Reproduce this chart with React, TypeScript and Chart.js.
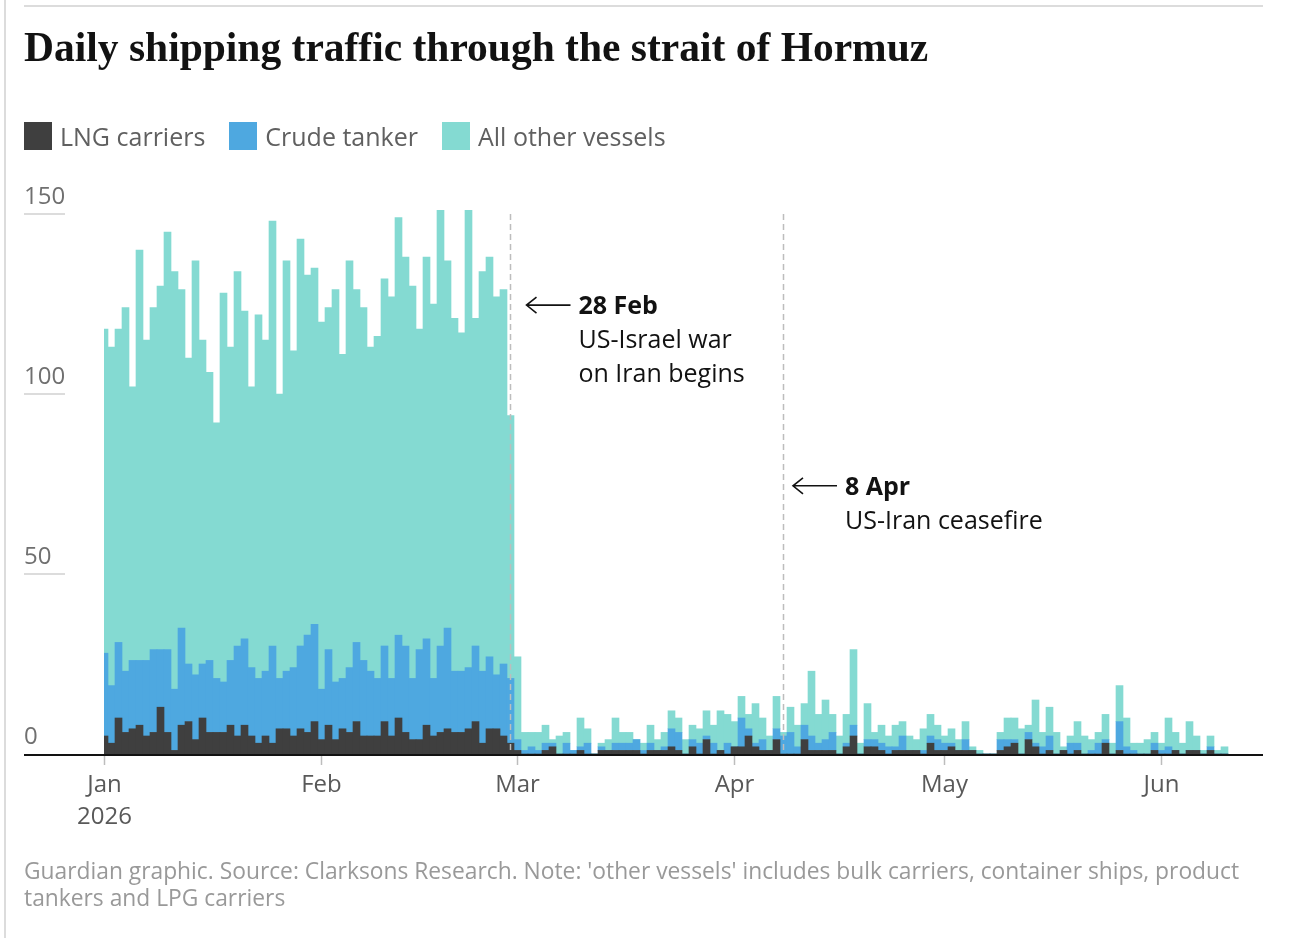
import { useEffect, useRef } from "react";
import { Chart, BarController, BarElement, LinearScale } from "chart.js";

Chart.register(BarController, BarElement, LinearScale);

const SANS = "'Open Sans', 'Noto Sans', sans-serif";
const SERIF = "'Liberation Serif', 'DejaVu Serif', serif";

const SERIES_NAMES = ["LNG carriers", "Crude tanker", "All other vessels"];
const COLORS = ["#3f3f3f", "#4ea8e0", "#84dad2"];

// vessels per day, index 0 = 1 Jan 2026
const LNG = [
  5, 3, 10, 6, 7, 8, 5, 6, 13, 6, 1, 8, 9, 4, 10, 6, 6, 6, 8, 5, 8, 5, 3, 5, 3, 7, 7, 5, 7, 6, 9,
  4, 8, 4, 7, 6, 9, 5, 5, 5, 9, 5, 10, 6, 4, 4, 8, 5, 6, 7, 6, 6, 7, 9, 3, 7, 7, 5, 3,
  1, 0, 0, 0, 1, 2, 0, 0, 0, 1, 0, 0, 1, 1, 1, 1, 1, 1, 0, 1, 1, 1, 2, 1, 0, 2, 0, 4, 0, 1, 0,
  2, 2, 5, 2, 1, 1, 4, 0, 0, 0, 4, 1, 1, 1, 1, 0, 2, 5, 0, 2, 2, 1, 0, 1, 1, 1, 1, 0, 3, 1,
  1, 2, 1, 1, 1, 0, 0, 0, 1, 2, 3, 0, 4, 2, 0, 1, 0, 1, 0, 1, 0, 0, 0, 3, 0, 1, 0, 0, 0, 0, 1,
  0, 0, 1, 0, 1, 1, 0, 1, 0, 0,
];
const CRUDE = [
  23, 16, 21, 17, 19, 18, 21, 23, 16, 23, 17, 27, 16, 18, 15, 20, 15, 14, 18, 25, 24, 19, 18, 18, 27, 14, 16, 19, 23, 27, 27,
  14, 21, 16, 14, 18, 22, 21, 18, 16, 21, 16, 23, 24, 17, 25, 24, 16, 24, 28, 17, 17, 17, 21, 20, 20, 15, 20, 18,
  3, 1, 2, 1, 2, 1, 0, 3, 1, 1, 3, 0, 1, 0, 2, 2, 2, 3, 1, 2, 0, 1, 5, 5, 0, 2, 3, 1, 3, 0, 3,
  0, 8, 2, 1, 3, 0, 3, 5, 6, 2, 4, 4, 2, 3, 5, 0, 1, 3, 0, 2, 2, 2, 2, 1, 4, 0, 0, 1, 2, 3,
  2, 1, 0, 3, 0, 0, 0, 0, 3, 2, 1, 0, 2, 1, 2, 4, 0, 0, 3, 2, 0, 1, 3, 1, 0, 8, 2, 1, 0, 0, 2,
  1, 2, 0, 0, 0, 0, 0, 1, 0, 0,
];
const OTHER = [
  90, 94, 87, 101, 76, 114, 89, 95, 101, 116, 116, 94, 85, 115, 90, 80, 71, 108, 87, 104, 91, 78, 101, 92, 118, 79, 114, 88, 113, 100, 99,
  102, 95, 109, 90, 113, 98, 98, 90, 95, 102, 106, 116, 108, 109, 89, 106, 104, 121, 102, 98, 94, 127, 91, 111, 111, 105, 104, 73,
  23, 5, 4, 5, 5, 1, 5, 3, 0, 8, 4, 0, 1, 3, 7, 3, 3, 0, 2, 5, 3, 4, 5, 4, 4, 4, 4, 7, 5, 11, 8,
  7, 6, 4, 11, 6, 4, 9, 1, 7, 6, 6, 18, 8, 11, 5, 5, 8, 21, 3, 10, 2, 5, 3, 6, 4, 4, 3, 6, 6, 4,
  2, 4, 3, 5, 1, 1, 0, 0, 2, 6, 6, 7, 2, 12, 4, 8, 6, 1, 2, 6, 5, 3, 3, 7, 3, 10, 8, 2, 3, 4, 3,
  2, 8, 5, 3, 8, 4, 1, 3, 1, 2,
];
const SERIES = [LNG, CRUDE, OTHER];

const MONTH_TICKS = [0, 31, 59, 90, 120, 151];
const MONTH_LABELS = [["Jan", "2026"], ["Feb"], ["Mar"], ["Apr"], ["May"], ["Jun"]];
const Y_TICKS = [0, 50, 100, 150];

const EVENTS = [
  { day: 58, y: 124.7, title: "28 Feb", lines: ["US-Israel war", "on Iran begins"] },
  { day: 97, y: 74.5, title: "8 Apr", lines: ["US-Iran ceasefire"] },
];
const ARROW_GAPS = [16, 9.5];

const W = 1302;
const H = 938;

const guardianAxes = {
  id: "guardianAxes",
  afterDatasetsDraw(chart: Chart) {
    const { ctx, chartArea: area } = chart;
    const xs = chart.scales.x;
    const ys = chart.scales.y;
    const y0 = ys.getPixelForValue(0);
    const yTop = ys.getPixelForValue(150);
    ctx.save();

    // y labels sit above short grid stubs
    ctx.font = `24px ${SANS}`;
    ctx.textBaseline = "middle";
    ctx.textAlign = "left";
    Y_TICKS.forEach((v) => {
      const py = ys.getPixelForValue(v);
      if (v !== 0) {
        ctx.fillStyle = "#dcdcdc";
        ctx.fillRect(area.left, py - 1, 41, 2);
      }
      ctx.fillStyle = "#707070";
      ctx.fillText(String(v), area.left, py - 16.5);
    });

    ctx.fillStyle = "#121212";
    ctx.fillRect(area.left, y0, area.right - area.left, 2);

    // month ticks
    ctx.strokeStyle = "#bdbdbd";
    ctx.lineWidth = 1.5;
    ctx.textAlign = "center";
    ctx.fillStyle = "#595959";
    MONTH_TICKS.forEach((d, i) => {
      const px = xs.getPixelForValue(d);
      ctx.beginPath();
      ctx.moveTo(px, y0 + 2);
      ctx.lineTo(px, y0 + 11);
      ctx.stroke();
      MONTH_LABELS[i].forEach((t, j) => ctx.fillText(t, px, y0 + 31 + j * 32));
    });

    // event markers
    EVENTS.forEach((ev, i) => {
      const px = xs.getPixelForValue(ev.day);
      const py = ys.getPixelForValue(ev.y);
      ctx.save();
      ctx.strokeStyle = "#bdbdbd";
      ctx.lineWidth = 1.5;
      ctx.setLineDash([6, 4]);
      ctx.beginPath();
      ctx.moveTo(px, yTop);
      ctx.lineTo(px, y0);
      ctx.stroke();
      ctx.restore();

      const ax = px + ARROW_GAPS[i];
      ctx.strokeStyle = "#121212";
      ctx.lineWidth = 1.6;
      ctx.beginPath();
      ctx.moveTo(ax, py);
      ctx.lineTo(ax + 44, py);
      ctx.moveTo(ax + 10, py - 8);
      ctx.lineTo(ax, py);
      ctx.lineTo(ax + 10, py + 8);
      ctx.stroke();

      ctx.textAlign = "left";
      ctx.fillStyle = "#121212";
      ctx.font = `bold 25px ${SANS}`;
      ctx.fillText(ev.title, ax + 52, py + 2);
      ctx.font = `25px ${SANS}`;
      ev.lines.forEach((t, j) => ctx.fillText(t, ax + 52, py + 2 + 34 * (j + 1)));
    });
    ctx.restore();
  },
};

export default function App() {
  const canvasRef = useRef<HTMLCanvasElement>(null);
  const chartRef = useRef<Chart<"bar"> | null>(null);

  useEffect(() => {
    if (!canvasRef.current) return;
    if (chartRef.current) chartRef.current.destroy();

    chartRef.current = new Chart(canvasRef.current, {
      type: "bar",
      data: {
        datasets: SERIES.map((values, i) => ({
          label: SERIES_NAMES[i],
          data: values.map((v, d) => ({ x: d, y: v })),
          backgroundColor: COLORS[i],
          borderWidth: 0,
          barPercentage: 1,
          categoryPercentage: 1,
          clip: { left: -80, top: false, right: false, bottom: false },
        })),
      },
      options: {
        responsive: false,
        animation: false,
        events: [],
        layout: { padding: { left: 24, right: 39, top: 214, bottom: 184 } },
        scales: {
          x: { type: "linear", min: -11.5, max: 165.5, offset: false, stacked: true, display: false, grid: { offset: false } },
          y: { type: "linear", min: 0, max: 150, stacked: true, display: false },
        },
        plugins: { legend: { display: false }, tooltip: { enabled: false } },
      },
      plugins: [guardianAxes],
    });

    return () => {
      if (chartRef.current) {
        chartRef.current.destroy();
        chartRef.current = null;
      }
    };
  }, []);

  return (
    <div style={{ position: "absolute", left: 0, top: 0, width: W, height: H, background: "#fff", overflow: "hidden" }}>
      <div style={{ position: "absolute", left: 4, top: 0, width: 2, height: H, background: "#dcdcdc" }} />
      <div style={{ position: "absolute", left: 24, top: 5, width: 1239, height: 2, background: "#dcdcdc" }} />
      <canvas ref={canvasRef} width={W} height={H} style={{ position: "absolute", left: 0, top: 0, width: W, height: H }} />
      <div
        style={{
          position: "absolute",
          left: 24,
          top: 27,
          fontFamily: SERIF,
          fontWeight: 700,
          fontSize: 41.5,
          lineHeight: "41.5px",
          color: "#121212",
          whiteSpace: "nowrap",
        }}
      >
        Daily shipping traffic through the strait of Hormuz
      </div>
      <div style={{ position: "absolute", left: 24, top: 122, display: "flex", gap: 24, fontFamily: SANS, fontSize: 25, color: "#606060" }}>
        {SERIES_NAMES.map((name, i) => (
          <div key={name} style={{ display: "flex", alignItems: "center", gap: 8, height: 28 }}>
            <span style={{ width: 28, height: 28, background: COLORS[i], display: "inline-block" }} />
            <span style={{ lineHeight: "28px" }}>{name}</span>
          </div>
        ))}
      </div>
      <div style={{ position: "absolute", left: 24, top: 857, fontFamily: SANS, fontSize: 22.8, lineHeight: "27px", color: "#999", whiteSpace: "nowrap" }}>
        <div>Guardian graphic. Source: Clarksons Research. Note: 'other vessels' includes bulk carriers, container ships, product</div>
        <div>tankers and LPG carriers</div>
      </div>
    </div>
  );
}
